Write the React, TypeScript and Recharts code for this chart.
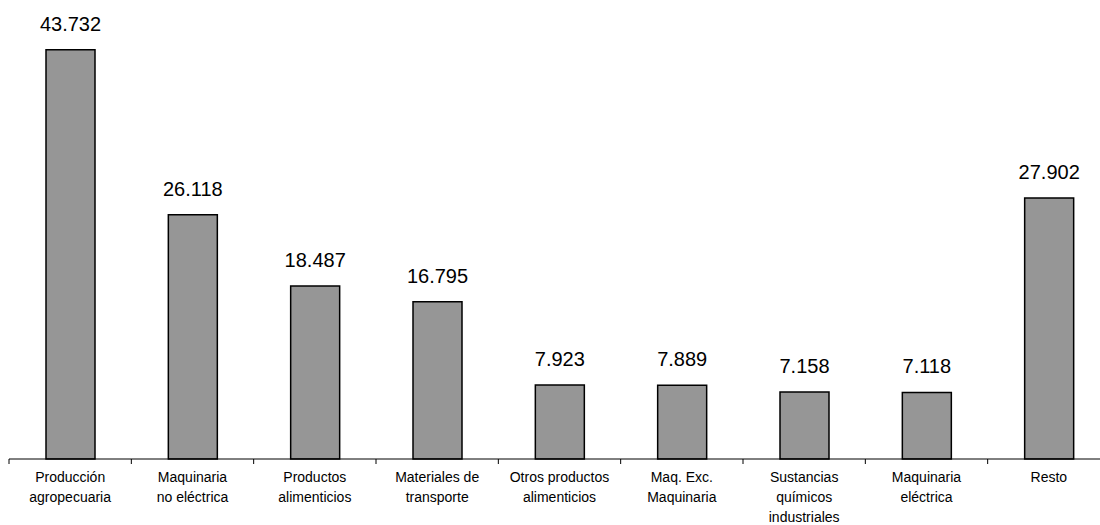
import { BarChart, Bar, XAxis, YAxis, LabelList } from 'recharts';

// categories (lines of each label) and values, in miles
const categories = [
  ['Producción', 'agropecuaria'],
  ['Maquinaria', 'no eléctrica'],
  ['Productos', 'alimenticios'],
  ['Materiales de', 'transporte'],
  ['Otros productos', 'alimenticios'],
  ['Maq. Exc.', 'Maquinaria'],
  ['Sustancias', 'químicos', 'industriales'],
  ['Maquinaria', 'eléctrica'],
  ['Resto'],
];
const values = [43.732, 26.118, 18.487, 16.795, 7.923, 7.889, 7.158, 7.118, 27.902];

const data = categories.map((lines, i) => ({ name: lines.join(' '), lines, value: values[i] }));

const FONT = '"Liberation Sans", Arial, sans-serif';

// label + tick marks at the category boundaries (not centers)
function CategoryTick({ x, y, index, width }: any) {
  const lines = categories[index] || [];
  const band = width / categories.length;
  const left = x - band / 2;
  const last = index === categories.length - 1;
  return (
    <g>
      <line x1={left} x2={left} y1={y} y2={y + 5} stroke="#000" />
      {last && <line x1={left + band} x2={left + band} y1={y} y2={y + 5} stroke="#000" />}
      <text x={x} y={y} textAnchor="middle" fontSize={14} fill="#000" fontFamily={FONT}>
        {lines.map((l, i) => (
          <tspan key={i} x={x} dy={i === 0 ? 23 : 20}>{l}</tspan>
        ))}
      </text>
    </g>
  );
}

const fmt = (v: any) => Number(v).toFixed(3);

export default function App() {
  return (
    <div style={{ width: 1100, height: 525, overflow: 'hidden', fontFamily: FONT }}>
      <style>{'body{margin:0;overflow:hidden}'}</style>
      <BarChart
        width={1110}
        height={525}
        data={data}
        margin={{ top: 38, right: 0, left: 9, bottom: 0 }}
      >
        <XAxis
          dataKey="name"
          height={66}
          axisLine={{ stroke: '#000' }}
          tickLine={false}
          tickSize={0}
          tickMargin={0}
          interval={0}
          tick={<CategoryTick />}
        />
        <YAxis hide domain={[0, 45]} />
        <Bar
          dataKey="value"
          barSize={49}
          fill="#969696"
          stroke="#000"
          strokeWidth={1.5}
          isAnimationActive={false}
        >
          <LabelList
            dataKey="value"
            position="top"
            offset={19}
            formatter={fmt}
            style={{ fontSize: 20, fill: '#000', fontFamily: FONT }}
          />
        </Bar>
      </BarChart>
    </div>
  );
}
